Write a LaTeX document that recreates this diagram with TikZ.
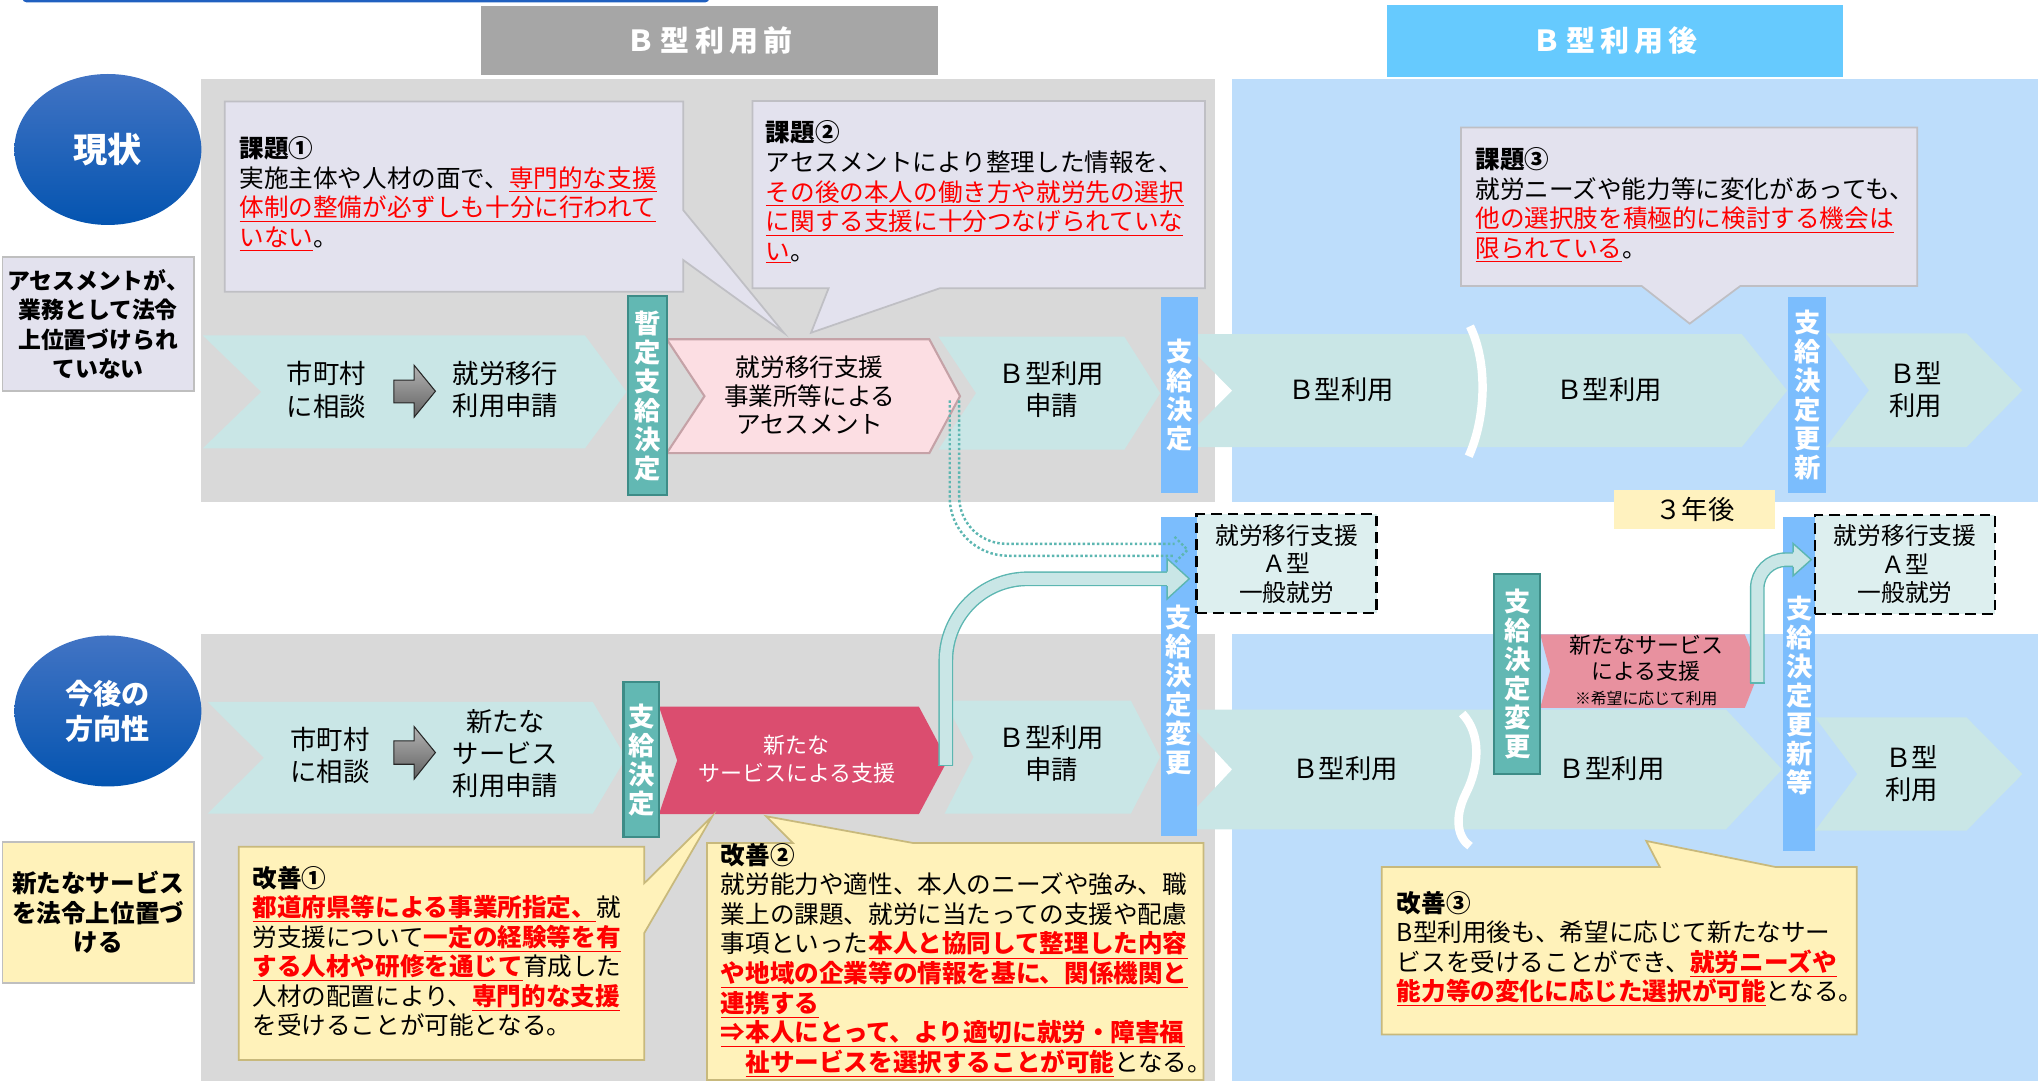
\documentclass[tikz,border=0pt]{standalone}
\usepackage{fontspec}
\setmainfont{Noto Sans CJK JP}
\newfontfamily\headfont[LetterSpace=18]{Noto Sans CJK JP}
\usetikzlibrary{positioning, calc, shapes.geometric}

\definecolor{panelgray}{HTML}{D9D9D9}
\definecolor{panelblue}{HTML}{BDDDFB}
\definecolor{chevteal}{HTML}{C9E6E6}
\definecolor{tealbar}{HTML}{62B8B3}
\definecolor{tealedge}{HTML}{3D8C87}
\definecolor{bluebar}{HTML}{7BBDFD}
\definecolor{headgray}{HTML}{A6A6A6}
\definecolor{headblue}{HTML}{66CAFE}
\definecolor{callgray}{HTML}{E3E2EE}
\definecolor{callline}{HTML}{BFBFC4}
\definecolor{callyel}{HTML}{FFF2BA}
\definecolor{yelline}{HTML}{C8B97C}
\definecolor{newred}{HTML}{DB4D6F}
\definecolor{pinklight}{HTML}{FCDEE3}
\definecolor{pinkedge}{HTML}{C5A2A7}
\definecolor{pinkmid}{HTML}{E8919F}
\definecolor{jobfill}{HTML}{DDEFEF}
\definecolor{circtop}{HTML}{4274C4}
\definecolor{circbot}{HTML}{0454B0}
\definecolor{hollowline}{HTML}{5CB6B1}
\definecolor{hollowfill}{HTML}{C9E6E6}
\definecolor{topline}{HTML}{2060C0}
\definecolor{sannenfill}{HTML}{FFF2BF}

\newcommand{\fs}[2]{\fontsize{#1}{#2}\selectfont}
\newcommand{\redul}[1]{{\color{red}\underline{#1}}}
\newcommand{\redbul}[1]{{\color{red}\bfseries\underline{#1}}}
% chevron: left, notch x, corner x, tip x, top y, bottom y
\newcommand{\chev}[7][]{\path[#1] (#2,#6) -- (#4,#6) -- (#5,{(#6+#7)/2}) -- (#4,#7) -- (#2,#7) -- (#3,{(#6+#7)/2}) -- cycle;}

\tikzset{
  header/.style={text=white, font=\headfont\bfseries\fs{16.5}{18}, inner sep=0pt},
  status/.style={ellipse, top color=circtop, bottom color=circbot, text=white, align=center, inner sep=0pt, minimum width=3.74cm, minimum height=3.02cm},
  sidebox/.style={draw=black!25, line width=1pt, align=center, inner sep=0pt, minimum width=3.822cm},
  chevfill/.style={fill=chevteal},
  assessfill/.style={fill=pinklight, draw=pinkedge, line width=1.2pt},
  newfill/.style={fill=newred},
  pinkfill/.style={fill=pinkmid},
  proc/.style={font=\fs{15}{18.3}, align=center, inner sep=0pt},
  bartxt/.style={text=white, font=\bfseries\fs{15}{16.5}, align=center, inner sep=0pt},
  tealbox/.style={bartxt, fill=tealbar, draw=tealedge, line width=1.2pt},
  bluebox/.style={bartxt, fill=bluebar},
  callgraybox/.style={fill=callgray, draw=callline, line width=1pt},
  callyelbox/.style={fill=callyel, draw=yelline, line width=1pt},
  calltext/.style={font=\fs{14}{16.8}, align=left, inner sep=0pt, anchor=west},
  jobbox/.style={draw=black, fill=jobfill, line width=1.4pt, dash pattern=on 6pt off 3.5pt, font=\fs{13.5}{16.2}, align=center, inner sep=0pt, minimum width=3.6cm, minimum height=1.98cm},
  breakmark/.style={draw=white, line width=4.8pt},
  grayarrow/.style={top color=black!30, bottom color=black!62, draw=black!85, line width=0.6pt},
  shaft/.style={draw=hollowline, line width=0.8pt, double=hollowfill, double distance=6.8pt},
  headline/.style={draw=hollowline, line width=0.8pt, line join=miter},
  dotline/.style={draw=hollowline, line width=1.4pt, dash pattern=on 1.4pt off 1.3pt},
}

\begin{document}
\begin{tikzpicture}[x=0.026cm, y=-0.026cm]
\useasboundingbox (0,0) rectangle (1568,832);

% headers
\draw[line width=1.3pt, draw=topline, rounded corners=2pt] (18,-12) -- (18,1) -- (545,1) -- (545,-12);
\node[header, fill=headgray, minimum width=9.15cm, minimum height=1.38cm] (mae) at (546,31.5) {Ｂ型利用前};
\node[header, fill=headblue, minimum width=9.13cm, minimum height=1.43cm] (ato) at (1242.5,31.5) {Ｂ型利用後};

% panels
\fill[panelgray] (155,61) rectangle (935,386);
\fill[panelblue] (948,61) rectangle (1568,386);
\fill[panelgray] (155,488) rectangle (935,832);
\fill[panelblue] (948,488) rectangle (1568,832);

% left labels
\node[status, font=\bfseries\fs{19.5}{22}] (genjo) at (83,115) {現状};
\node[status, font=\bfseries\fs{16}{20}] (kongo) at (83,547) {今後の\\方向性};
\node[sidebox, fill=callgray, minimum height=2.678cm, font=\bfseries\fs{13}{16.7}] (noLaw) at (75.5,249.5) {アセスメントが、\\業務として法令\\上位置づけられ\\ていない};
\node[sidebox, fill=callyel, minimum height=2.808cm, font=\bfseries\fs{14}{16.7}] (newLaw) at (75.5,702) {新たなサービス\\を法令上位置づ\\ける};

% upper row
\chev[chevfill]{156}{201}{450}{482}{258}{345}
\chev[assessfill]{513}{542}{715}{738.6}{261}{348.6}
\chev[chevfill]{722}{751}{865}{892.6}{259}{346}
\chev[chevfill]{905}{948}{1340}{1375}{257}{344}
\chev[chevfill]{1405}{1438}{1513}{1556}{256.5}{344}
% lower row
\chev[chevfill]{159.8}{203}{456}{481.6}{540}{626}
\chev[newfill]{507}{521}{707}{729}{543.7}{626.3}
\chev[chevfill]{726.8}{749}{870}{892.5}{539}{626}
\chev[chevfill]{905}{948}{1328}{1371}{546}{638}
\chev[pinkfill]{1185}{1192.6}{1342.4}{1353.6}{488}{544.7}
\chev[chevfill]{1396.6}{1429}{1513}{1556}{552}{639}

\draw[breakmark] (1131,251) .. controls (1145,280) and (1143,322) .. (1130,351);
\draw[breakmark] (1125,549) .. controls (1140,565) and (1138,590) .. (1128,610) .. controls (1118,630) and (1122,645) .. (1131,651);

\path[grayarrow] (303,292.4) -- (318.6,292.4) -- (318.6,281) -- (335,301) -- (318.6,321) -- (318.6,310) -- (303,310) -- cycle;
\path[grayarrow] (303,570) -- (318.6,570) -- (318.6,559) -- (335,579) -- (318.6,599.5) -- (318.6,588) -- (303,588) -- cycle;

\node[proc] (soudanA) at (251,300) {市町村\\に相談};
\node[proc] (ikouA) at (389,300) {就労移行\\利用申請};
\node[proc, font=\fs{14}{16}] (assess) at (623,304) {就労移行支援\\事業所等による\\アセスメント};
\node[proc] (bshinA) at (809,300) {Ｂ型利用\\申請};
\node[proc] (briyoA1) at (1032,300) {Ｂ型利用};
\node[proc] (briyoA2) at (1238,300) {Ｂ型利用};
\node[proc] (briyoA3) at (1474,300) {Ｂ型\\利用};

\node[proc] (soudanB) at (254,581) {市町村\\に相談};
\node[proc] (shinB) at (389,580) {新たな\\サービス\\利用申請};
\node[proc, font=\fs{12.5}{16}, text=white] (newsvc) at (613,584) {新たな\\サービスによる支援};
\node[proc] (bshinB) at (809,580) {Ｂ型利用\\申請};
\node[proc] (briyoB1) at (1035,591) {Ｂ型利用};
\node[proc] (briyoB2) at (1240,591) {Ｂ型利用};
\node[proc] (briyoB3) at (1471,595) {Ｂ型\\利用};
\node[proc, font=\fs{12.5}{14.5}] (pinksvc) at (1266.6,516) {新たなサービス\\による支援\\{\fs{9}{11}※希望に応じて利用}};

% decision bars
\node[tealbox, minimum width=0.78cm, minimum height=3.978cm] (zantei) at (498,304.5) {暫\\定\\支\\給\\決\\定};
\node[bluebox, minimum width=0.754cm, minimum height=3.926cm] (ketteiA) at (907.5,304) {支\\給\\決\\定};
\node[bluebox, minimum width=0.754cm, minimum height=3.913cm] (koushinA) at (1390.5,303.75) {支\\給\\決\\定\\更\\新};
\node[tealbox, minimum width=0.71cm, minimum height=3.094cm] (ketteiB) at (493.35,584.5) {支\\給\\決\\定};
\node[bluebox, minimum width=0.72cm, minimum height=6.37cm] (henkouB) at (906.85,520.5) {};
\node[bartxt] (henkouBtxt) at ($(henkouB.center)+(0,10)$) {支\\給\\決\\定\\変\\更};
\node[tealbox, minimum width=0.92cm, minimum height=4.0cm] (henkouC) at (1167.3,518.65) {支\\給\\決\\定\\変\\更};
\node[bluebox, minimum width=0.64cm, minimum height=6.67cm] (koushinB) at (1384.3,526.25) {};
\node[bartxt] (koushinBtxt) at ($(koushinB.center)+(0,9)$) {支\\給\\決\\定\\更\\新\\等};

% issues
\path[callgraybox] (173,78) -- (525.6,78) -- (525.6,161.6) -- (603,256) -- (525.6,200) -- (525.6,224.5) -- (173,224.5) -- cycle;
\path[callgraybox] (579,77.7) -- (927,77.7) -- (927,221.8) -- (723,221.8) -- (624,256) -- (637.5,221.8) -- (579,221.8) -- cycle;
\path[callgraybox] (1124,98) -- (1475,98) -- (1475,220) -- (1339,220) -- (1300,249) -- (1263,220) -- (1124,220) -- cycle;

\node[calltext] (kadai1) at (184,149.2) {{\bfseries 課題①}\\実施主体や人材の面で、\redul{専門的な支援}\\\redul{体制の整備が必ずしも十分に行われて}\\\redul{いない}。};
\node[calltext] (kadai2) at (589,148) {{\bfseries 課題②}\\アセスメントにより整理した情報を、\\\redul{その後の本人の働き方や就労先の選択}\\\redul{に関する支援に十分つなげられていな}\\\redul{い}。};
\node[calltext] (kadai3) at (1135,158) {{\bfseries 課題③}\\就労ニーズや能力等に変化があっても、\\\redul{他の選択肢を積極的に検討する機会は}\\\redul{限られている}。};

% improvements
\path[callyelbox] (183.7,651.4) -- (495.6,651.4) -- (495.6,679.6) -- (548,628) -- (495.6,718) -- (495.6,815.6) -- (183.7,815.6) -- cycle;
\path[callyelbox] (544,648.6) -- (610,648.6) -- (589.4,628) -- (702.6,648.6) -- (926,648.6) -- (926,831) -- (544,831) -- cycle;
\path[callyelbox] (1063,667) -- (1277,667) -- (1266.6,647) -- (1365.8,667) -- (1428.5,667) -- (1428.5,796) -- (1063,796) -- cycle;

\node[calltext] (kaizen1) at (194,732) {{\bfseries 改善①}\\\redbul{都道府県等による事業所指定、}就\\労支援について\redbul{一定の経験等を有}\\\redbul{する人材や研修を通じて}育成した\\人材の配置により、\redbul{専門的な支援}\\を受けることが可能となる。};
\node[calltext] (kaizen2) at (554.4,738.7) {{\bfseries 改善②}\\就労能力や適性、本人のニーズや強み、職\\業上の課題、就労に当たっての支援や配慮\\事項といった\redbul{本人と協同して整理した内容}\\\redbul{や地域の企業等の情報を基に、関係機関と}\\\redbul{連携する}\\\redbul{⇒本人にとって、より適切に就労・障害福}\\\hspace*{1em}\redbul{祉サービスを選択することが可能}となる。};
\node[calltext] (kaizen3) at (1074.5,730) {{\bfseries 改善③}\\B型利用後も、希望に応じて新たなサー\\ビスを受けることができ、\redbul{就労ニーズや}\\\redbul{能力等の変化に応じた選択が可能}となる。};

% destinations
\node[jobbox] (ajob1) at (989.85,433.7) {就労移行支援\\Ａ型\\一般就労};
\node[jobbox] (ajob2) at (1465.7,434.2) {就労移行支援\\Ａ型\\一般就労};
\node[font=\fs{15}{18}, fill=sannenfill, minimum width=3.224cm, minimum height=0.78cm, inner sep=0pt] (sannen) at (1304,392) {３年後};

% dotted route from assessment
\coordinate (assessTip) at (734.5,308);
\coordinate (dotTip) at ($(ajob1.west)+(-6,-10.7)$);
\draw[dotline, rounded corners=1.17cm] ($(assessTip)+(-3.8,0)$) -- ($(assessTip |- dotTip)+(-3.8,4.6)$) -- ($(dotTip)+(-10,4.6)$);
\draw[dotline, rounded corners=0.94cm] ($(assessTip)+(3.5,0)$) -- ($(assessTip |- dotTip)+(3.5,-4.6)$) -- ($(dotTip)+(-10,-4.6)$);
\draw[dotline] ($(dotTip)+(-10,-10)$) -- (dotTip) -- ($(dotTip)+(-10,10)$);

% hollow arrow from new service
\coordinate (newTop) at (727.7,589);
\coordinate (bigTip) at ($(ajob1.west)+(-4.7,11.6)$);
\coordinate (bigBase) at ($(bigTip)+(-17,0)$);
\draw[shaft, rounded corners=1.64cm] (newTop) -- (newTop |- bigBase) -- (bigBase);
\draw[headline] ($(newTop)+(-5.7,0)$) -- ($(newTop)+(5.7,0)$);
\fill[hollowfill] ($(bigBase)+(0,-15.5)$) -- (bigTip) -- ($(bigBase)+(0,15.5)$) -- cycle;
\draw[headline] ($(bigBase)+(0,-5.6)$) -- ($(bigBase)+(0,-15.5)$) -- (bigTip) -- ($(bigBase)+(0,15.5)$) -- ($(bigBase)+(0,5.6)$);

% hollow arrow after B-type use
\coordinate (pinkTop) at (1352,525.5);
\coordinate (smallTip) at ($(ajob2.west)+(-2,-3.6)$);
\coordinate (smallBase) at ($(smallTip)+(-14,0)$);
\draw[shaft, rounded corners=0.57cm] (pinkTop) -- (pinkTop |- smallBase) -- (smallBase);
\draw[headline] ($(pinkTop)+(-5.7,0)$) -- ($(pinkTop)+(5.7,0)$);
\fill[hollowfill] ($(smallBase)+(0,-12.5)$) -- (smallTip) -- ($(smallBase)+(0,12.5)$) -- cycle;
\draw[headline] ($(smallBase)+(0,-5.6)$) -- ($(smallBase)+(0,-12.5)$) -- (smallTip) -- ($(smallBase)+(0,12.5)$) -- ($(smallBase)+(0,5.6)$);
\end{tikzpicture}
\end{document}
